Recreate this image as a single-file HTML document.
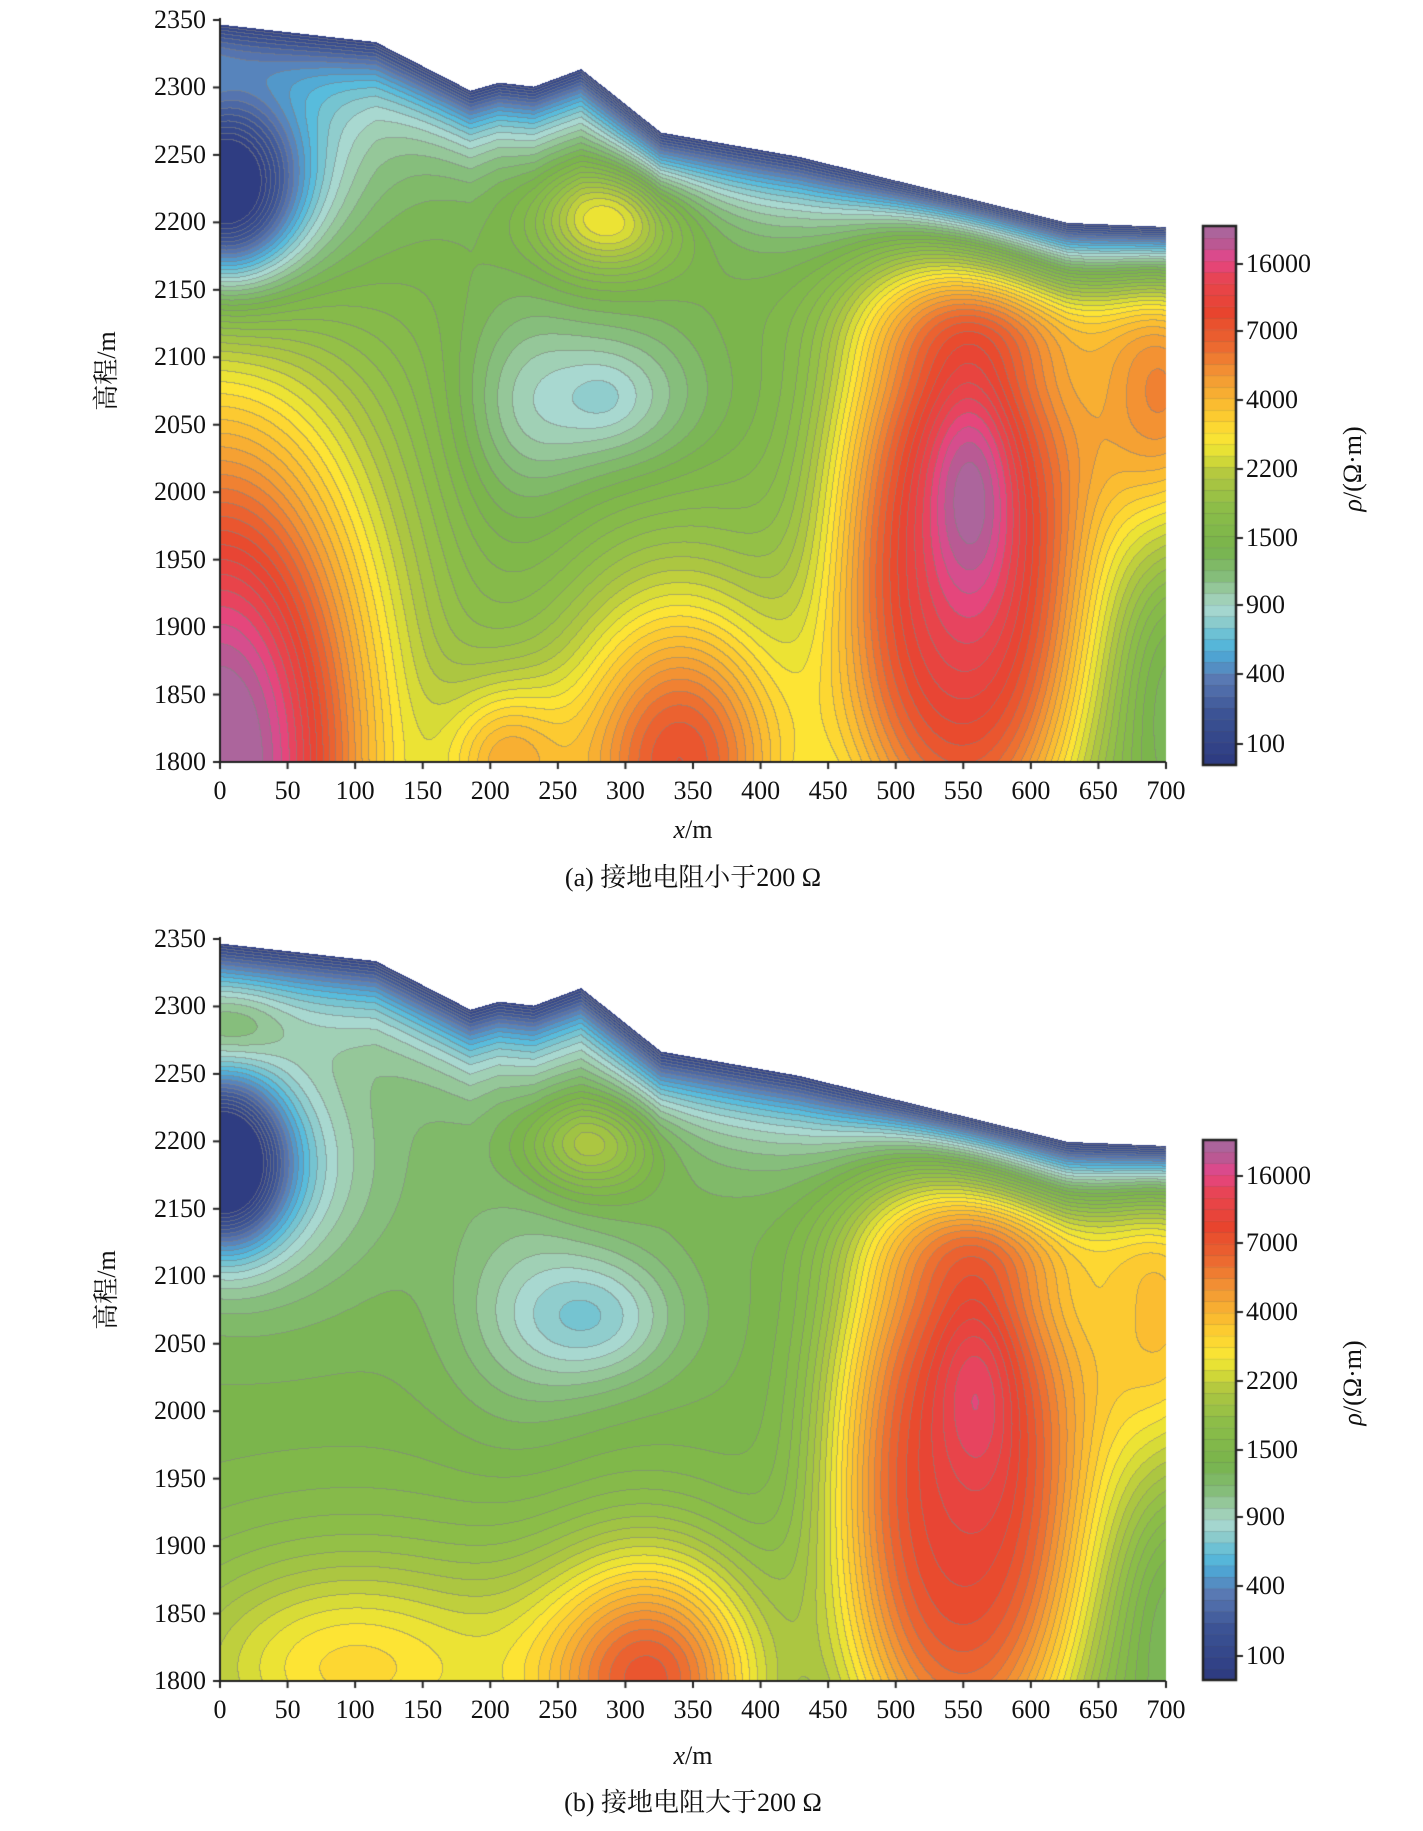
<!DOCTYPE html>
<html><head><meta charset="utf-8"><style>
body{margin:0;background:#fff;width:1423px;height:1831px;position:relative;overflow:hidden;font-family:"Liberation Serif","Noto Serif CJK SC",serif;color:#111}
canvas{position:absolute;left:0;top:0}
.t{position:absolute;font-size:26px;line-height:26px;white-space:nowrap}
</style></head><body>
<canvas id="c" width="1423" height="1831"></canvas>
<div id="txt"></div>
<script>
const cv=document.getElementById('c'),ctx=cv.getContext('2d');
const stops=[[0,'#2d3a80'],[.10,'#3d5596'],[.16,'#5a7ab4'],[.20,'#4fa2d2'],[.23,'#58bcdc'],[.26,'#84c8cc'],[.29,'#a8d8d0'],[.32,'#9ccca8'],[.35,'#86be7c'],[.40,'#78b44c'],[.48,'#8ebe48'],[.54,'#b2c840'],[.58,'#e4e234'],[.61,'#fde434'],[.66,'#fcc430'],[.72,'#f49a34'],[.78,'#ec6830'],[.84,'#e8452e'],[.90,'#e84450'],[.94,'#e4468a'],[.97,'#b95a94'],[1,'#a66aa0']].map(s=>[s[0],parseInt(s[1].slice(1,3),16),parseInt(s[1].slice(3,5),16),parseInt(s[1].slice(5,7),16)]);
function cmap(t){t=Math.max(0,Math.min(1,t));for(let i=1;i<stops.length;i++){if(t<=stops[i][0]){const a=stops[i-1],b=stops[i],f=(t-a[0])/(b[0]-a[0]);return [a[1]+(b[1]-a[1])*f,a[2]+(b[2]-a[2])*f,a[3]+(b[3]-a[3])*f];}}return stops[stops.length-1].slice(1);}
const terr=[[0,2347],[115,2334],[185,2298],[206,2304],[232,2301],[267,2314],[326,2267],[428,2249],[627,2200],[700,2197]];
function surf(x){for(let i=1;i<terr.length;i++){if(x<=terr[i][0]){const a=terr[i-1],b=terr[i];return a[1]+(b[1]-a[1])*(x-a[0])/(b[0]-a[0]);}}return 2197;}
const GA=[[0,1800,120,270,0.6,1],[210,1800,45,60,0.2,1],[340,1800,90,130,0.4,1],[550,1950,100,260,0.46,1.5],[555,2000,32,90,0.12,1],[700,2080,60,120,0.33,1],[700,1860,30,100,-0.05,1],[290,2205,55,40,0.22,1],[290,2070,70,60,-0.12,1],[220,2060,50,100,-0.07,1],[285,2070,25,25,-0.02,1],[0,2225,55,70,-0.42,1],[40,2240,90,110,-0.14,1],[600,2130,120,40,0.1,1]];
const GB=[[100,1805,130,80,0.15,1],[100,1830,200,120,0.08,1],[320,1800,85,100,0.38,1],[550,1950,100,260,0.45,1.5],[560,2020,30,80,0.08,1],[700,2080,60,150,0.27,1],[700,1870,30,100,-0.05,1],[275,2200,50,35,0.16,1],[280,2070,60,50,-0.12,1],[220,2080,60,100,-0.06,1],[0,2185,45,60,-0.42,1],[30,2180,90,90,-0.13,1],[10,2290,40,30,0.08,1],[600,2130,120,40,0.1,1]];
const X0=220,W=946,H=742,N=50;
function field(G,x,z,base){let v=base;for(const g of G){const dx=(x-g[0])/g[2],dz=(z-g[1])/g[3];let r=dx*dx+dz*dz;if(g[5]!=1)r=Math.pow(r,g[5]);v+=g[4]*Math.exp(-r);}const d=surf(x)-z;const s=1-Math.exp(-Math.max(d,0)/35);return 0.02+(v-0.02)*s;}
function panel(G,Y0,base){const img=ctx.createImageData(W,H);const L=new Int16Array(W*H);
for(let j=0;j<H;j++){const z=2350-j/H*550;for(let i=0;i<W;i++){const x=i/W*700;const k=j*W+i;if(z>surf(x)){L[k]=-1;continue;}const v=Math.max(0,Math.min(0.999,field(G,x,z,base)));L[k]=Math.floor(v*N);}}
for(let j=0;j<H;j++)for(let i=0;i<W;i++){const k=j*W+i,p=k*4;if(L[k]<0){img.data[p+3]=0;continue;}let c=cmap((L[k]+0.5)/N);const r=i+1<W?L[k+1]:L[k],b=j+1<H?L[k+W]:L[k];if((r>=0&&r!=L[k])||(b>=0&&b!=L[k])){c=[c[0]*0.45+130*0.55,c[1]*0.45+130*0.55,c[2]*0.45+130*0.55];}img.data[p]=c[0];img.data[p+1]=c[1];img.data[p+2]=c[2];img.data[p+3]=255;}
ctx.putImageData(img,X0,Y0);}
function axes(Y0,cbTop,cbBot,labY,xl,cap,capText){
ctx.strokeStyle='#222';ctx.lineWidth=2;ctx.beginPath();ctx.moveTo(X0,Y0-2);ctx.lineTo(X0,Y0+H);ctx.lineTo(X0+W,Y0+H);ctx.stroke();
let h='';
for(let k=0;k<12;k++){const z=2350-k*50,y=Y0+k*50/550*H;ctx.beginPath();ctx.moveTo(X0-7,y);ctx.lineTo(X0,y);ctx.stroke();h+=`<div class="t" style="right:${1423-X0+14}px;top:${y-13}px">${z}</div>`;}
for(let k=0;k<15;k++){const x=X0+k*50/700*W;ctx.beginPath();ctx.moveTo(x,Y0+H);ctx.lineTo(x,Y0+H+7);ctx.stroke();h+=`<div class="t" style="left:${x-40}px;width:80px;text-align:center;top:${Y0+H+16}px">${k*50}</div>`;}
const nb=47,cx=1203,cw=33,ch=cbBot-cbTop;
for(let b=0;b<nb;b++){const c=cmap((b+0.5)/nb);ctx.fillStyle=`rgb(${c[0]|0},${c[1]|0},${c[2]|0})`;const y1=cbBot-(b+1)*ch/nb;ctx.fillRect(cx,y1,cw,ch/nb+0.5);ctx.fillStyle='rgba(90,90,90,0.35)';ctx.fillRect(cx,y1,cw,1);}
ctx.lineWidth=2.5;ctx.strokeRect(cx,cbTop,cw,ch);ctx.lineWidth=2;
labY.forEach((y,i)=>{ctx.beginPath();ctx.moveTo(cx+cw,y);ctx.lineTo(cx+cw+7,y);ctx.stroke();h+=`<div class="t" style="left:${cx+cw+10}px;top:${y-13}px">${['16000','7000','4000','2200','1500','900','400','100'][i]}</div>`;});
const my=(cbTop+cbBot)/2;
h+=`<div class="t" style="left:${1353-70}px;width:140px;text-align:center;top:${my-40}px;transform:rotate(-90deg)"><i>ρ</i>/(Ω·m)</div>`;
h+=`<div class="t" style="left:${107-60}px;width:120px;text-align:center;top:${Y0+H/2-13-20}px;transform:rotate(-90deg)">高程/m</div>`;
h+=`<div class="t" style="left:${X0+W/2-60}px;width:120px;text-align:center;top:${xl-13}px"><i>x</i>/m</div>`;
h+=`<div class="t" style="left:${X0+W/2-250}px;width:500px;text-align:center;top:${cap-13}px">${capText}</div>`;
document.getElementById('txt').innerHTML+=h;}
panel(GA,20,0.42);panel(GB,939,0.40);
axes(20,226,765,[264,331,400,469,538,605,674,744],830,878,'(a) 接地电阻小于200 Ω');
axes(939,1140,1680,[1176,1243,1312,1381,1450,1517,1586,1656],1756,1803,'(b) 接地电阻大于200 Ω');
</script>
</body></html>
